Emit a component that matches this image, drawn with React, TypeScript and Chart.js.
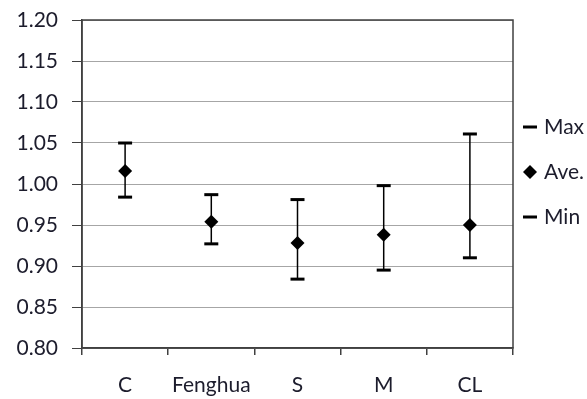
import React, { useEffect, useRef } from 'react';
import { Chart, registerables } from 'chart.js';

Chart.register(...registerables);

const categories = ['C', 'Fenghua', 'S', 'M', 'CL'];
const maxValues = [1.05, 0.987, 0.981, 0.998, 1.061];
const aveValues = [1.016, 0.954, 0.928, 0.938, 0.95];
const minValues = [0.984, 0.927, 0.884, 0.895, 0.91];
const yTickValues = [0.8, 0.85, 0.9, 0.95, 1.0, 1.05, 1.1, 1.15, 1.2];
const seriesNames = ['Max', 'Ave.', 'Min'];

const FONT = 'Lato';
const TEXT = '#1c1c2c';
const DARK = '#404040';

export default function App() {
  const ref = useRef<HTMLCanvasElement>(null);

  useEffect(() => {
    if (!ref.current) return;

    const errorBars = {
      id: 'errorBars',
      beforeDatasetsDraw(chart: any) {
        const { ctx, scales } = chart;
        const x = scales.x, y = scales.y;
        ctx.save();
        ctx.strokeStyle = '#000';
        ctx.lineWidth = 1.5;
        categories.forEach((_, i) => {
          const px = x.getPixelForValue(i);
          ctx.beginPath();
          ctx.moveTo(px, y.getPixelForValue(maxValues[i]));
          ctx.lineTo(px, y.getPixelForValue(minValues[i]));
          ctx.stroke();
        });
        ctx.restore();
      },
    };

    const frame = {
      id: 'frame',
      afterDraw(chart: any) {
        const { ctx, chartArea } = chart;
        const { left, top, right, bottom } = chartArea;
        ctx.save();
        ctx.strokeStyle = DARK;
        ctx.lineWidth = 1.5;
        ctx.strokeRect(left, top, right - left, bottom - top);
        ctx.restore();
      },
    };

    const sideLegend = {
      id: 'sideLegend',
      afterDraw(chart: any) {
        const { ctx, chartArea } = chart;
        const x0 = chartArea.right + 10;
        ctx.save();
        ctx.font = `21px ${FONT}`;
        ctx.textBaseline = 'middle';
        ctx.textAlign = 'left';
        seriesNames.forEach((name, i) => {
          const yy = 127 + i * 45;
          ctx.fillStyle = '#000';
          if (i === 1) {
            ctx.beginPath();
            ctx.moveTo(x0 + 7, yy - 7);
            ctx.lineTo(x0 + 14, yy);
            ctx.lineTo(x0 + 7, yy + 7);
            ctx.lineTo(x0, yy);
            ctx.closePath();
            ctx.fill();
          } else {
            ctx.fillRect(x0, yy - 1.5, 14, 3);
          }
          ctx.fillStyle = TEXT;
          ctx.fillText(name, x0 + 21, yy);
        });
        ctx.restore();
      },
    };

    const chart = new Chart(ref.current, {
      type: 'line',
      data: {
        labels: categories,
        datasets: [
          {
            label: seriesNames[0],
            data: maxValues,
            showLine: false,
            pointStyle: 'line',
            pointRadius: 7,
            pointBorderWidth: 3,
            borderColor: '#000',
            backgroundColor: '#000',
          },
          {
            label: seriesNames[1],
            data: aveValues,
            showLine: false,
            pointStyle: 'rectRot',
            pointRadius: 7,
            pointBorderWidth: 0,
            borderColor: '#000',
            backgroundColor: '#000',
          },
          {
            label: seriesNames[2],
            data: minValues,
            showLine: false,
            pointStyle: 'line',
            pointRadius: 7,
            pointBorderWidth: 3,
            borderColor: '#000',
            backgroundColor: '#000',
          },
        ],
      },
      options: {
        responsive: false,
        animation: false,
        layout: { padding: { top: 20, right: 74, left: 0, bottom: 0 } },
        plugins: {
          legend: { display: false },
          tooltip: { enabled: false },
        },
        scales: {
          x: {
            type: 'category',
            offset: true,
            grid: {
              offset: true,
              drawOnChartArea: false,
              tickLength: 7,
              tickColor: DARK,
              lineWidth: 1.5,
            },
            border: { color: DARK, width: 1.5 },
            ticks: {
              color: TEXT,
              font: { family: FONT, size: 21 },
              padding: 18,
              maxRotation: 0,
            },
            afterFit(scale: any) {
              scale.height = 51;
              scale.paddingLeft = 0;
              scale.paddingRight = 0;
            },
          },
          y: {
            min: 0.8,
            max: 1.2,
            grid: {
              color: '#a6a6a6',
              lineWidth: 1,
              tickLength: 10,
              tickColor: DARK,
            },
            border: { color: DARK, width: 1.5 },
            ticks: {
              color: TEXT,
              font: { family: FONT, size: 21 },
              padding: 14,
              callback: (v: any) => Number(v).toFixed(2),
            },
            afterBuildTicks(scale: any) {
              scale.ticks = yTickValues.map((v) => ({ value: v }));
            },
            afterFit(scale: any) {
              scale.width = 82;
              scale.paddingTop = 0;
              scale.paddingBottom = 0;
            },
          },
        },
      },
      plugins: [errorBars, frame, sideLegend],
    });

    return () => chart.destroy();
  }, []);

  return (
    <div style={{ position: 'absolute', left: 0, top: 0, width: 587, height: 399, background: '#fff' }}>
      <canvas ref={ref} width={587} height={399} />
    </div>
  );
}
